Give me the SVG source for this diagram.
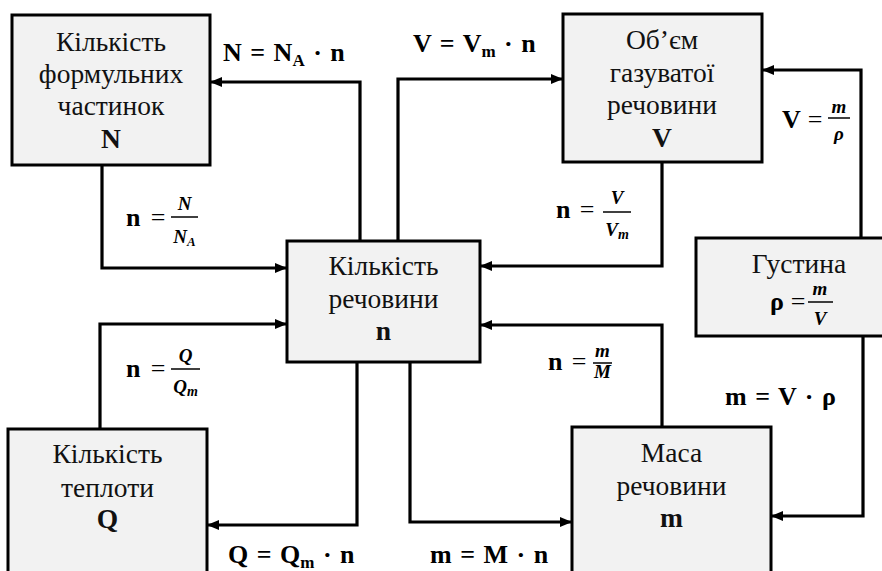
<svg xmlns="http://www.w3.org/2000/svg" width="882" height="571" viewBox="0 0 882 571">
<style>
.box{fill:#f2f2f2;stroke:#000;stroke-width:3}
text{font-family:"Liberation Serif","Times New Roman","DejaVu Serif",serif}
.t{font-size:27.5px;fill:#111;text-anchor:middle}
.b{font-weight:bold}
.lab{font-size:26px;font-weight:bold;fill:#000;word-spacing:2px}
.fr{font-size:19px;font-weight:bold;font-style:italic;fill:#000;text-anchor:middle}
.eq{font-size:26px;fill:#000;text-anchor:middle}
.bar{stroke:#000;stroke-width:1.5}
.c{fill:none;stroke:#000;stroke-width:3.2;marker-end:url(#ah)}
</style>
<defs>
<marker id="ah" markerUnits="userSpaceOnUse" viewBox="0 0 12 10" refX="11" refY="5" markerWidth="12" markerHeight="10" orient="auto">
<path d="M0,0 L12,5 L0,10 z" fill="#000"/>
</marker>
</defs>
<rect width="882" height="571" fill="#fff"/>
<g id="connectors">
<path class="c" d="M360,241 V82 H211"/>
<path class="c" d="M398,241 V79 H562"/>
<path class="c" d="M102,165 V268 H286"/>
<path class="c" d="M100,429 V324 H286"/>
<path class="c" d="M662,162 V266 H481"/>
<path class="c" d="M662,427 V325 H481"/>
<path class="c" d="M357,362 V525 H208"/>
<path class="c" d="M410,362 V522 H571"/>
<path class="c" d="M861,238 V70 H763"/>
<path class="c" d="M863,336 V516 H772"/>
</g>
<g id="node-N">
<rect class="box" x="12" y="15" width="198" height="150"/>
<text class="t" x="111" y="51">Кількість</text>
<text class="t" x="111" y="83">формульних</text>
<text class="t" x="111" y="115">частинок</text>
<text class="t b" x="111" y="148">N</text>
</g>
<g id="node-V">
<rect class="box" x="563" y="14" width="199" height="148"/>
<text class="t" x="662" y="49">Об’єм</text>
<text class="t" x="662" y="82">газуватої</text>
<text class="t" x="662" y="114">речовини</text>
<text class="t b" x="662" y="147">V</text>
</g>
<g id="node-n">
<rect class="box" x="287" y="241" width="193" height="121"/>
<text class="t" x="383.5" y="275">Кількість</text>
<text class="t" x="383.5" y="308">речовини</text>
<text class="t b" x="383.5" y="340">n</text>
</g>
<g id="node-rho">
<rect class="box" x="696" y="238" width="210" height="98"/>
<text class="t" x="799" y="273">Густина</text>
<text class="lab" x="770" y="310">ρ</text>
<text class="eq" x="798" y="310">=</text>
<line class="bar" x1="808" y1="302" x2="833" y2="302"/>
<text class="fr" x="820" y="295">m</text>
<text class="fr" x="820" y="325">V</text>
</g>
<g id="node-Q">
<rect class="box" x="8" y="429" width="199" height="160"/>
<text class="t" x="107.5" y="463">Кількість</text>
<text class="t" x="107.5" y="497">теплоти</text>
<text class="t b" x="107.5" y="528">Q</text>
</g>
<g id="node-m">
<rect class="box" x="572" y="427" width="199" height="160"/>
<text class="t" x="671.5" y="462">Маса</text>
<text class="t" x="671.5" y="495">речовини</text>
<text class="t b" x="671.5" y="527">m</text>
</g>
<g id="labels">
<text class="lab" x="223" y="61">N = N<tspan font-size="17" dy="5">A</tspan><tspan dy="-5"> · n</tspan></text>
<text class="lab" x="413" y="52">V = V<tspan font-size="17" dy="5">m</tspan><tspan dy="-5"> · n</tspan></text>
<text class="lab" x="228" y="563">Q = Q<tspan font-size="17" dy="5">m</tspan><tspan dy="-5"> · n</tspan></text>
<text class="lab" x="430" y="563">m = M · n</text>
<text class="lab" x="725" y="405">m = V · ρ</text>

<text class="lab" x="126" y="226">n</text>
<text class="eq" x="158" y="226">=</text>
<line class="bar" x1="171" y1="217" x2="198" y2="217"/>
<text class="fr" x="184.5" y="210">N</text>
<text class="fr" x="184.5" y="243">N<tspan font-size="13" dy="3">A</tspan></text>

<text class="lab" x="126" y="377">n</text>
<text class="eq" x="158" y="377">=</text>
<line class="bar" x1="171" y1="369" x2="200" y2="369"/>
<text class="fr" x="185.5" y="362">Q</text>
<text class="fr" x="185.5" y="393">Q<tspan font-size="14" dy="3">m</tspan></text>

<text class="lab" x="556" y="218">n</text>
<text class="eq" x="587" y="218">=</text>
<line class="bar" x1="603" y1="212" x2="631" y2="212"/>
<text class="fr" x="617" y="204">V</text>
<text class="fr" x="617" y="236">V<tspan font-size="14" dy="3">m</tspan></text>

<text class="lab" x="548" y="370">n</text>
<text class="eq" x="579" y="370">=</text>
<line class="bar" x1="593" y1="363" x2="612" y2="363"/>
<text class="fr" x="602.5" y="357">m</text>
<text class="fr" x="602.5" y="378">M</text>

<text class="lab" x="782" y="128">V</text>
<text class="eq" x="815" y="128">=</text>
<line class="bar" x1="828" y1="118" x2="850" y2="118"/>
<text class="fr" x="839" y="113">m</text>
<text class="fr" x="839" y="140">ρ</text>
</g>
</svg>
